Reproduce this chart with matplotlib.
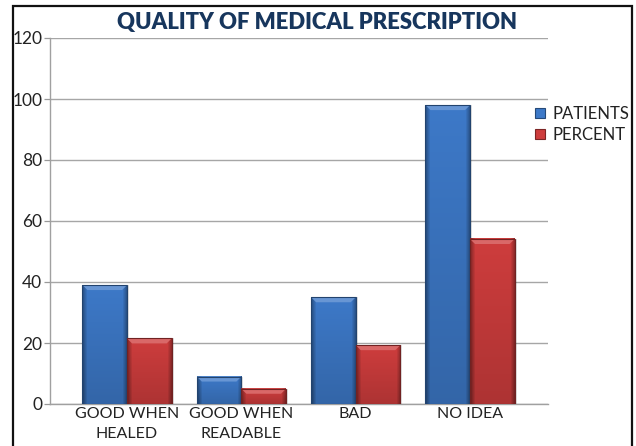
import numpy as np
import matplotlib
matplotlib.use("Agg")
import matplotlib.pyplot as plt
from matplotlib.patches import Rectangle, Polygon
from matplotlib.lines import Line2D
from matplotlib.colors import to_rgb

categories = ["GOOD WHEN\nHEALED", "GOOD WHEN\nREADABLE", "BAD", "NO IDEA"]
patients = [39, 9, 35, 98]
percent = [21.5, 5.0, 19.3, 54.1]
series_names = ["PATIENTS", "PERCENT"]
y_ticks = [0, 20, 40, 60, 80, 100, 120]

FONT = "Lato"
W, H = 636, 446
fig = plt.figure(figsize=(W / 100, H / 100), dpi=100)
ax = fig.add_axes([50 / W, 1 - 404 / H, (548 - 50) / W, (404 - 38) / H])

x = np.arange(len(categories))
bw = 0.39
colors = ["#3D79C8", "#CE3D3D"]
ax.set_xlim(-0.674, 3.682)
ax.set_ylim(0, 120)

px_x = (3.682 + 0.674) / (548 - 50)   # data units per pixel, x
px_y = 120 / (404 - 38)               # data units per pixel, y


def shade(rgb, f):
    rgb = np.asarray(rgb)
    if f >= 0:
        return rgb + (1 - rgb) * f
    return rgb * (1 + f)


def beveled_bar(x0, h, color, z):
    base = np.array(to_rgb(color))
    width_px = int(round(bw / px_x))
    height_px = max(int(round(h / px_y)), 2)
    img = np.zeros((height_px, width_px, 3))
    xs = np.arange(width_px)
    # horizontal profile: darker at the sides
    hprof = np.full(width_px, 0.0)
    edge = 5
    hprof[:edge] = -0.35 * (1 - xs[:edge] / edge)
    hprof[-edge:] = -0.35 * (xs[-edge:] - (width_px - edge)) / edge
    for r in range(height_px):
        v = -0.16 * r / max(height_px - 1, 1)
        for c in range(width_px):
            img[r, c] = np.clip(shade(base, hprof[c] + v), 0, 1)
    # soft shadow to the right
    ax.add_patch(Rectangle((x0 + bw, 0), 2 * px_x, h, facecolor="#000000",
                           alpha=0.12, edgecolor="none", zorder=z - 0.5))
    ax.imshow(img, extent=(x0, x0 + bw, 0, h), aspect="auto",
              origin="upper", zorder=z, interpolation="bilinear")
    # bevelled top face
    bh = min(5 * px_y, h * 0.5)
    bx = 5 * px_x
    top = Polygon([(x0, h), (x0 + bw, h), (x0 + bw - bx, h - bh), (x0 + bx, h - bh)],
                  closed=True, facecolor=shade(base, 0.22), edgecolor="none",
                  zorder=z + 0.1)
    ax.add_patch(top)
    ax.add_patch(Rectangle((x0, 0), bw, h, facecolor="none",
                           edgecolor=shade(base, -0.45), linewidth=0.8,
                           zorder=z + 0.2))


for i in range(len(categories)):
    beveled_bar(x[i] - bw, patients[i], colors[0], 3 + i)
    beveled_bar(x[i], percent[i], colors[1], 3.3 + i)

ax.set_xlim(-0.674, 3.682)
ax.set_ylim(0, 120)

ax.set_yticks(y_ticks)
ax.set_yticklabels([str(t) for t in y_ticks], fontsize=12.5, family=FONT,
                   color="#222222")
ax.set_xticks(x)
ax.set_xticklabels(categories, fontsize=11.5, family=FONT, color="#222222",
                   linespacing=1.6)
ax.tick_params(axis="y", length=4, width=0.9, color="#999999", pad=1.5)
ax.tick_params(axis="x", length=0, pad=2)

ax.grid(axis="y", color="#A6A6A6", linewidth=1.0, zorder=0)
ax.set_axisbelow(True)
for s in ["top", "right"]:
    ax.spines[s].set_visible(False)
for s in ["left", "bottom"]:
    ax.spines[s].set_color("#A0A0A0")
    ax.spines[s].set_linewidth(1.0)

fig.text(0.499, 1 - 23 / H, "QUALITY OF MEDICAL PRESCRIPTION", ha="center",
         va="center", fontsize=15.9, fontweight="heavy", family=FONT,
         color="#17365D")

handles = [Line2D([], [], marker="s", linestyle="none", markersize=7,
                  markerfacecolor=c, markeredgecolor=shade(to_rgb(c), -0.4),
                  markeredgewidth=0.8) for c in colors]
fig.legend(handles, series_names, loc="upper left",
           bbox_to_anchor=(533 / W, 1 - 106 / H), frameon=False,
           prop={"family": FONT, "size": 12}, handlelength=0.8,
           handletextpad=0.4, labelspacing=0.3, borderaxespad=0,
           borderpad=0, labelcolor="#222222")

# outer chart frame
fig.patches.append(Rectangle((13 / W, -0.05), (632 - 13) / W, 1.05 - 6 / H,
                             transform=fig.transFigure, fill=False,
                             edgecolor="#111111", linewidth=1.6))

fig.savefig("out.png", dpi=100)
